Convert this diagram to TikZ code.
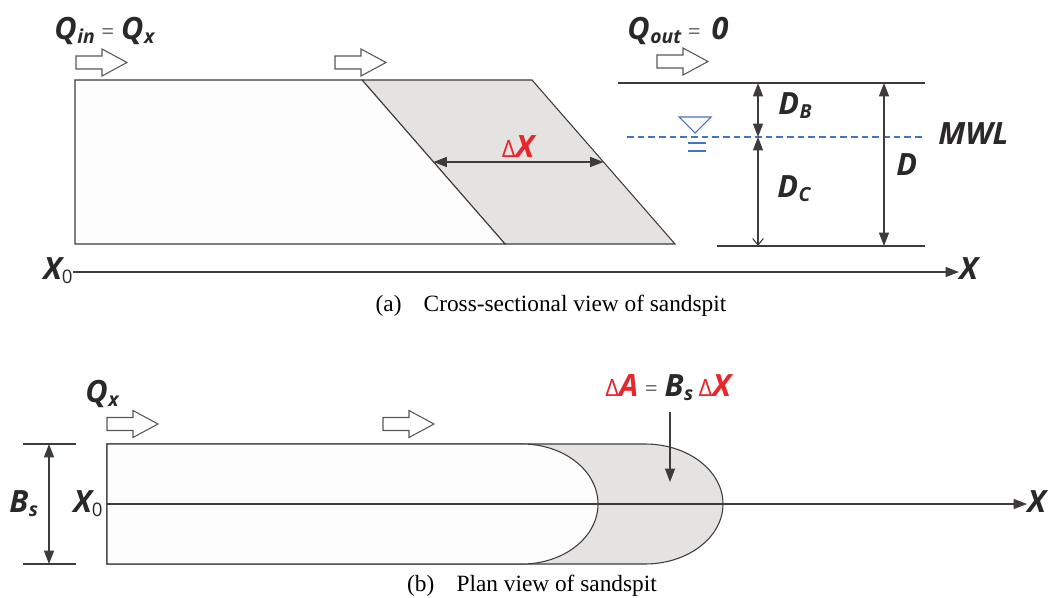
\documentclass[tikz,border=0pt]{standalone}
\usepackage{fontspec}
\setmainfont{Liberation Serif}
\newfontfamily\labf{Open Sans}
\usetikzlibrary{arrows.meta}
\definecolor{linec}{HTML}{3F3B3B}
\definecolor{greyf}{HTML}{E5E2E2}
\definecolor{whitef}{HTML}{FDFDFD}
\definecolor{redc}{HTML}{E8262B}
\definecolor{bluec}{HTML}{4472C4}
\definecolor{txtc}{HTML}{2B2828}
\definecolor{eqc}{HTML}{6E6B6B}
\definecolor{arrc}{HTML}{5A5757}
\newcommand{\lsub}[1]{\raisebox{-3pt}{\fontsize{14.5}{14.5}\selectfont\hspace{0.5pt}#1}}
\newcommand{\lzero}{\raisebox{-3pt}{\fontsize{14}{14}\selectfont\mdseries\upshape 0}}
\newcommand{\myeq}{{\mdseries\upshape\color{eqc}\fontsize{17}{17}\selectfont\hspace{5pt}=\hspace{5pt}}}
\newcommand{\ldelta}{{\mdseries\upshape\color{redc}\fontsize{18}{18}\selectfont Δ}}
\tikzset{
  x=0.75pt, y=-0.75pt,
  ln/.style={draw=linec, line width=0.8pt},
  lbl/.style={font=\labf\bfseries\itshape\fontsize{23}{26}\selectfont, inner sep=0pt, text=txtc},
  captxt/.style={font=\fontsize{17.5}{19}\selectfont, inner sep=0pt, text=black},
  tip/.style={-{Triangle[length=10pt,width=7.5pt]}},
  tips/.style={{Triangle[length=10pt,width=7.5pt]}-{Triangle[length=10pt,width=7.5pt]}},
  blockarrow/.pic={\draw[draw=arrc, line width=0.8pt, fill=white] (0,-6.5) -- (26,-6.5) -- (26,-13.5) -- (51,0) -- (26,13.5) -- (26,6.5) -- (0,6.5) -- cycle;}
}
\begin{document}
\begin{tikzpicture}
\useasboundingbox (0,0) rectangle (1048,598);
% ---------- (a) cross section ----------
\path[ln, fill=greyf] (362,80) -- (532,80) -- (675,244) -- (505,244) -- cycle;
\path[ln, fill=whitef] (75,80) -- (362,80) -- (505,244) -- (75,244) -- cycle;
\pic at (76,62.5) {blockarrow};
\pic at (335,62.5) {blockarrow};
\pic at (657,61.5) {blockarrow};
\node[lbl, anchor=base west] (qin) at (54,40) {Q\lsub{in}\myeq Q\lsub{x}};
\node[lbl, anchor=base west] (qout) at (627,40) {Q\lsub{out}\myeq\hspace{3pt}0};
% delta x
\coordinate (dxl) at (433.5,162);
\coordinate (dxr) at (603.5,162);
\draw[ln, tips] (dxl) -- (dxr);
\node[lbl, text=redc, anchor=base] (dx) at (518,158) {\ldelta X};
% water
\coordinate (wt1) at (618,83); \coordinate (wt2) at (925,83);
\coordinate (wb1) at (717,246); \coordinate (wb2) at (925,246);
\draw[ln] (wt1) -- (wt2);
\draw[ln] (wb1) -- (wb2);
\coordinate (mw1) at (627,137); \coordinate (mw2) at (925,137);
\draw[bluec, line width=0.8pt, dash pattern=on 5pt off 3pt] (mw1) -- (mw2);
\node[lbl, anchor=base west] (mwl) at (938,145) {MWL};
\draw[bluec, line width=0.8pt] (679,117) -- (711,117) -- (695,133) -- cycle;
\draw[bluec, line width=0.8pt] (688,143) -- (706,143) (688,151) -- (706,151);
% dimension arrows
\coordinate (db1) at (758,83); \coordinate (db2) at (758,137); \coordinate (dc2) at (758,246);
\draw[ln, tips] (db1) -- (db2);
\draw[ln, {Triangle[length=10pt,width=7.5pt]}-{Straight Barb[length=5pt,width=8pt]}] (db2) -- (dc2);
\coordinate (d1) at (884,83); \coordinate (d2) at (884,246);
\draw[ln, tips] (d1) -- (d2);
\node[lbl, anchor=base west] (dB) at (778,115) {D\lsub{B}};
\node[lbl, anchor=base west] (dC) at (777,198) {D\lsub{C}};
\node[lbl, anchor=base west] (dD) at (896,176) {D};
% axis
\node[lbl, anchor=base west] (x0a) at (43,280) {X\lzero};
\node[lbl, anchor=base west] (xa) at (959,280) {X};
\coordinate (axs) at (73,272);
\draw[ln, tip] (axs) -- (xa.west |- axs);
\node[captxt, anchor=base] (capa) at (551,311) {(a)\hspace{0.95em}Cross-sectional view of sandspit};
% ---------- (b) plan view ----------
\path[ln, fill=greyf] (107,444) -- (645,444) arc[start angle=-90, end angle=90, x radius=78, y radius=60] -- (107,564) -- cycle;
\path[ln, fill=whitef] (107,444) -- (522,444) arc[start angle=-90, end angle=90, x radius=76, y radius=60] -- (107,564) -- cycle;
\pic at (107,424) {blockarrow};
\pic at (383,424) {blockarrow};
\node[lbl, anchor=base west] (qx) at (85,402) {Q\lsub{x}};
\coordinate (c0) at (107,504);
\node[lbl, anchor=base west] (xb) at (1027,512) {X};
\draw[ln, tip] (c0) -- (xb.west |- c0);
\node[lbl, anchor=base west] (x0b) at (73,512) {X\lzero};
\node[lbl, anchor=base west] (bs) at (9,512) {B\lsub{s}};
\coordinate (bt1) at (23,444); \coordinate (bt2) at (76,444);
\coordinate (bb1) at (23,564); \coordinate (bb2) at (76,564);
\draw[ln] (bt1) -- (bt2);
\draw[ln] (bb1) -- (bb2);
\coordinate (ba1) at (49,444); \coordinate (ba2) at (49,564);
\draw[ln, tips] (ba1) -- (ba2);
\node[lbl, anchor=base west] (dA) at (605,396) {\ldelta{\color{redc}A}\myeq B\lsub{s}\hspace{4pt}\ldelta{\color{redc}X}};
\coordinate (dAs) at (670,412); \coordinate (dAe) at (670,482);
\draw[ln, tip] (dAs) -- (dAe);
\node[captxt, anchor=base] (capb) at (532,591) {(b)\hspace{0.95em}Plan view of sandspit};
\end{tikzpicture}
\end{document}
